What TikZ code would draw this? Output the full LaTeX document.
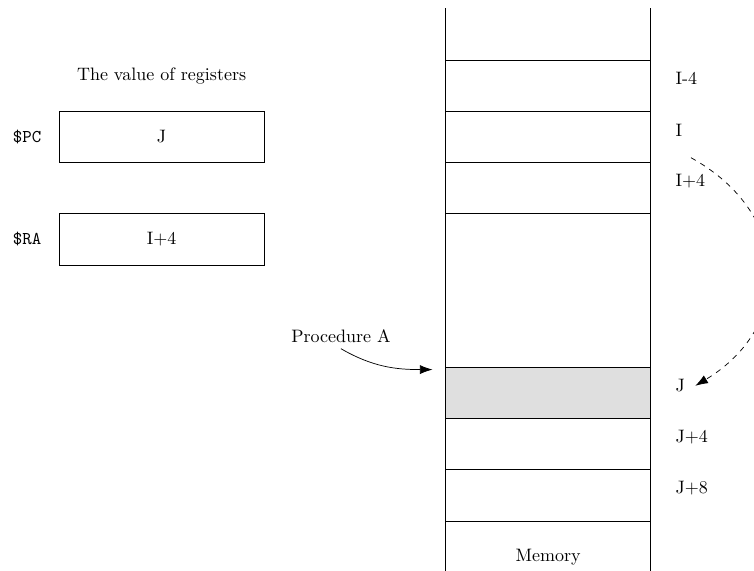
\documentclass[tikz,border=0pt]{standalone}
\usetikzlibrary{calc}
\usetikzlibrary{arrows.meta}
\newcommand{\widthcell}{4cm}
\newcommand{\heightcell}{1cm}
\tikzset{
    common/.style={anchor=north west, draw, rectangle, inner sep=0pt, minimum width=\widthcell, minimum height=\heightcell},
    cell/.style={common},
    reg/.style={common},
    used/.style={cell, fill=gray!25},
    addr/.style={label distance=0.36cm, yshift=0.14cm},
    regname/.style={label distance=0.22cm, font=\ttfamily},
    tip/.style={-{Latex[length=7pt,width=5pt]}}
}
\begin{document}
\begin{tikzpicture}
    \useasboundingbox (0,0) rectangle (14.73,-11.15);
    % memory column
    \coordinate (memtl) at (8.7,-0.16);
    \coordinate (membl) at (8.7,-11.3);
    \coordinate (memtr) at (12.7,-0.16);
    \coordinate (membr) at (12.7,-11.3);
    \draw (memtl) -- (membl);
    \draw (memtr) -- (membr);
    \path (8.7,-1.17)
        node[cell, label={[addr, name=addrIm4]east:I-4}] (cellIm4) {}
        ++(0,-\heightcell) node[cell, label={[addr, name=addrI]east:I}] (cellI) {}
        ++(0,-\heightcell) node[cell, label={[addr, name=addrIp4]east:I+4}] (cellIp4) {}
        ++(0,-4*\heightcell) node[used, label={[addr, name=addrJ]east:J}] (cellJ) {}
        ++(0,-\heightcell) node[cell, label={[addr, name=addrJp4]east:J+4}] (cellJp4) {}
        ++(0,-\heightcell) node[cell, label={[addr, name=addrJp8]east:J+8}] (cellJp8) {};
    \node (memlabel) at ($(cellJp8.south)+(0,-0.7)$) {Memory};
    % registers
    \node[reg, label={[regname]west:\$PC}, label={[label distance=0.4cm]north:The value of registers}] (pc) at (1.15,-2.17) {};
    \node (pcval) at (pc.center) {J};
    \node[reg, label={[regname]west:\$RA}] (ra) at (1.15,-4.17) {};
    \node (raval) at (ra.center) {I+4};
    % jump
    \node (proc) at (6.66,-6.56) {Procedure A};
    \draw[tip] (proc.south) to[out=-30, in=180] ([xshift=-0.25cm, yshift=-0.05cm]cellJ.north west);
    \draw[tip, dashed] ([xshift=0.05cm, yshift=-0.3cm]addrI.south east) to[bend left=60, looseness=1.3] ([xshift=0.08cm]addrJ.east);
\end{tikzpicture}
\end{document}
